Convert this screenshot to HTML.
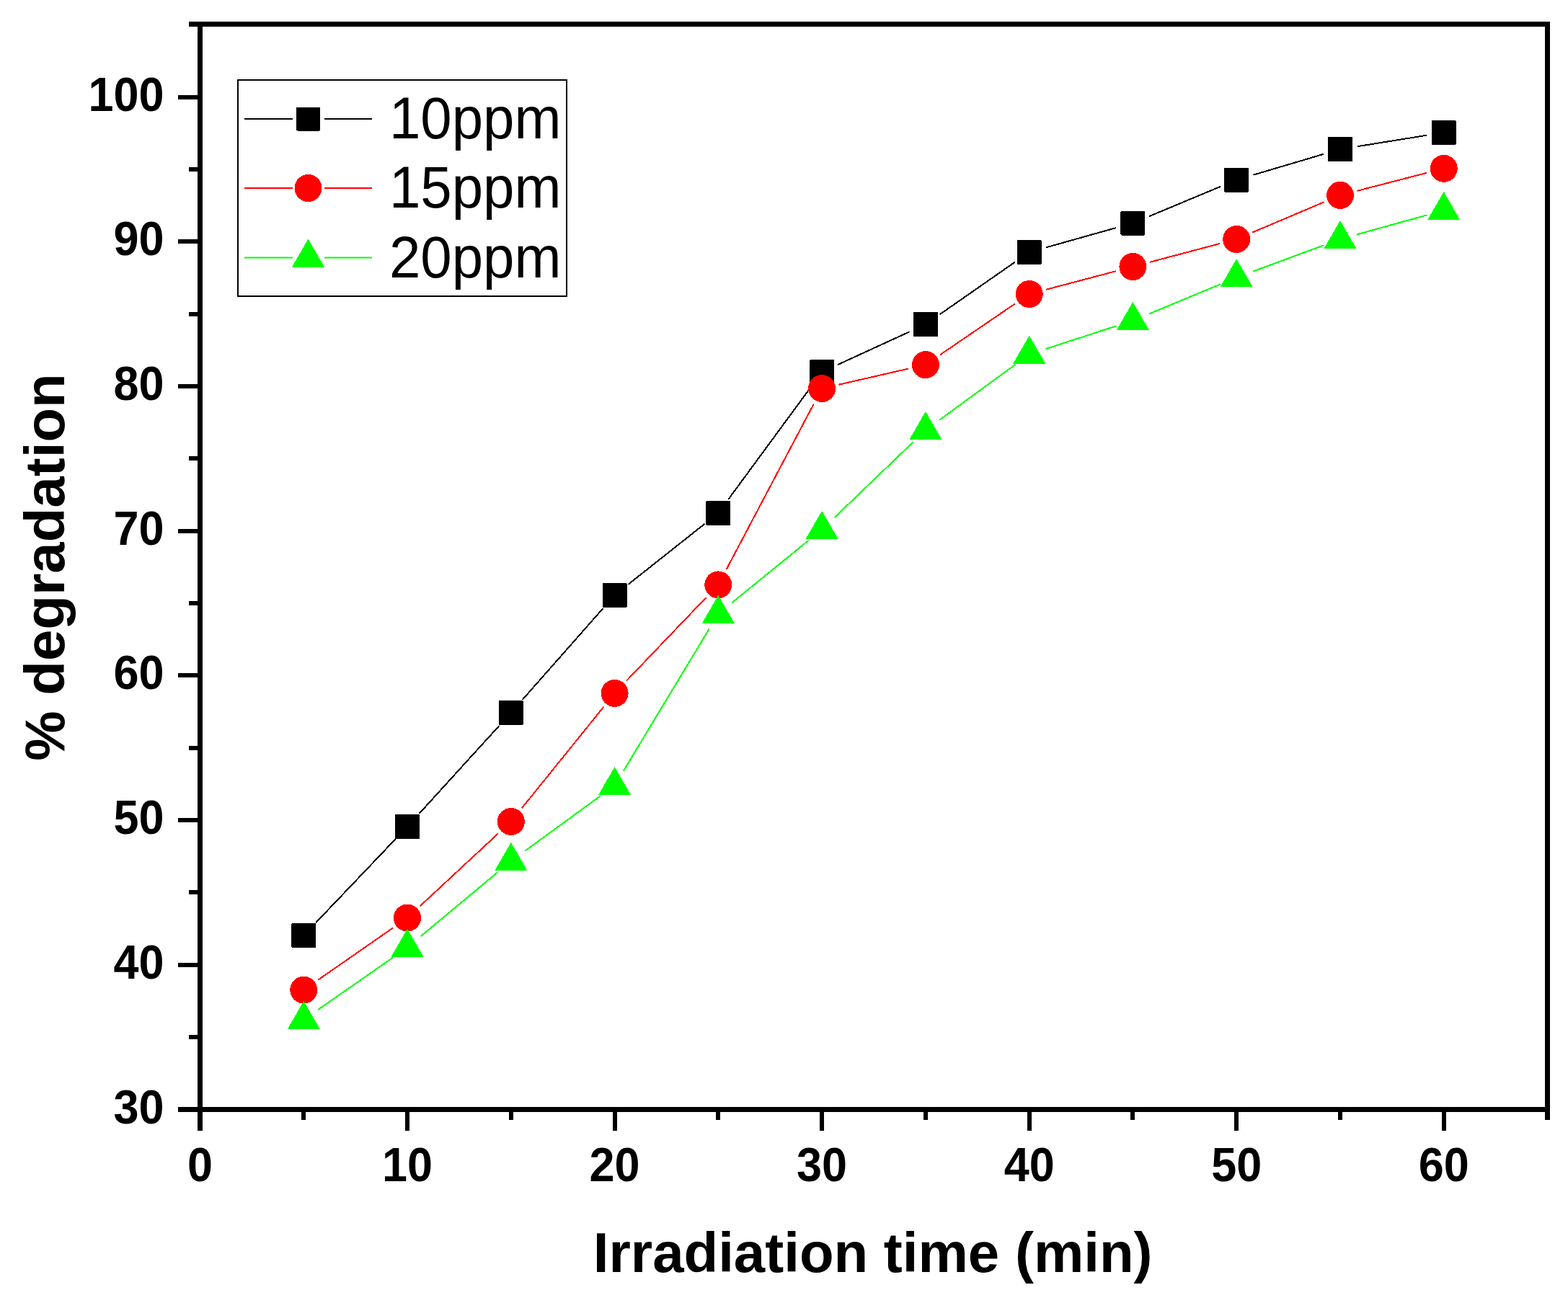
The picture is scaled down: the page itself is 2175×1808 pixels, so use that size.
<!DOCTYPE html><html><head><meta charset="utf-8"><title>% degradation vs Irradiation time</title><style>html,body{margin:0;padding:0;background:#fff}svg{display:block}text{font-family:"Liberation Sans",Arial,sans-serif}</style></head><body>
<svg width="2175" height="1808" viewBox="0 0 2175 1808">
<rect width="2175" height="1808" fill="#fff"/>
<path d="M438.5 1279.9L547.8 1165.1M581.9 1128.5L692.0 1007.5M725.3 970.2L836.1 844.6M872.2 810.3L976.7 727.5M1011.1 691.8L1125.3 536.4M1162.8 505.7L1261.2 460.5M1304.4 435.7L1407.1 364.2M1451.7 343.2L1547.4 316.3M1594.5 300.0L1692.1 259.2M1739.2 242.5L1835.0 214.1M1883.6 203.1L1978.0 187.9" stroke="#000" stroke-width="2" fill="none" stroke-linecap="round" shape-rendering="crispEdges"/>
<rect x="404.3" y="1281.0" width="34" height="34" rx="1.5" fill="#000" shape-rendering="crispEdges"/><rect x="548.0" y="1130.0" width="34" height="34" rx="1.5" fill="#000" shape-rendering="crispEdges"/><rect x="691.8" y="972.0" width="34" height="34" rx="1.5" fill="#000" shape-rendering="crispEdges"/><rect x="835.6" y="808.8" width="34" height="34" rx="1.5" fill="#000" shape-rendering="crispEdges"/><rect x="979.3" y="695.0" width="34" height="34" rx="1.5" fill="#000" shape-rendering="crispEdges"/><rect x="1123.1" y="499.2" width="34" height="34" rx="1.5" fill="#000" shape-rendering="crispEdges"/><rect x="1266.9" y="433.0" width="34" height="34" rx="1.5" fill="#000" shape-rendering="crispEdges"/><rect x="1410.7" y="332.9" width="34" height="34" rx="1.5" fill="#000" shape-rendering="crispEdges"/><rect x="1554.4" y="292.6" width="34" height="34" rx="1.5" fill="#000" shape-rendering="crispEdges"/><rect x="1698.2" y="232.6" width="34" height="34" rx="1.5" fill="#000" shape-rendering="crispEdges"/><rect x="1842.0" y="190.0" width="34" height="34" rx="1.5" fill="#000" shape-rendering="crispEdges"/><rect x="1985.7" y="167.0" width="34" height="34" rx="1.5" fill="#000" shape-rendering="crispEdges"/>
<path d="M441.8 1359.3L544.5 1287.9M583.4 1256.6L690.5 1157.0M724.5 1120.5L836.9 981.4M869.8 943.8L979.1 829.5M1008.0 789.3L1128.4 561.2M1164.5 533.5L1259.5 511.7M1304.5 492.0L1407.0 422.1M1451.8 401.6L1547.3 376.4M1595.6 363.6L1691.0 338.3M1738.2 322.1L1835.9 280.7M1883.2 264.7L1978.5 240.0" stroke="#f00" stroke-width="2" fill="none" stroke-linecap="round" shape-rendering="crispEdges"/>
<circle cx="421.3" cy="1373.6" r="19.0" fill="#f00" shape-rendering="crispEdges"/><circle cx="565.0" cy="1273.6" r="19.0" fill="#f00" shape-rendering="crispEdges"/><circle cx="708.8" cy="1140.0" r="19.0" fill="#f00" shape-rendering="crispEdges"/><circle cx="852.6" cy="961.9" r="19.0" fill="#f00" shape-rendering="crispEdges"/><circle cx="996.3" cy="811.4" r="19.0" fill="#f00" shape-rendering="crispEdges"/><circle cx="1140.1" cy="539.1" r="19.0" fill="#f00" shape-rendering="crispEdges"/><circle cx="1283.9" cy="506.1" r="19.0" fill="#f00" shape-rendering="crispEdges"/><circle cx="1427.7" cy="408.0" r="19.0" fill="#f00" shape-rendering="crispEdges"/><circle cx="1571.4" cy="370.0" r="19.0" fill="#f00" shape-rendering="crispEdges"/><circle cx="1715.2" cy="331.9" r="19.0" fill="#f00" shape-rendering="crispEdges"/><circle cx="1859.0" cy="270.9" r="19.0" fill="#f00" shape-rendering="crispEdges"/><circle cx="2002.7" cy="233.8" r="19.0" fill="#f00" shape-rendering="crispEdges"/>
<path d="M441.8 1400.6L544.5 1329.0M584.2 1298.7L689.6 1210.9M729.0 1180.2L832.4 1104.7M865.5 1068.6L983.4 873.2M1015.7 836.0L1120.7 750.6M1158.2 717.5L1265.8 614.2M1304.1 582.1L1407.5 506.4M1451.4 483.9L1547.6 452.6M1594.5 435.3L1692.1 394.7M1738.6 376.4L1835.5 340.6M1883.0 325.2L1978.6 298.6" stroke="#0f0" stroke-width="2" fill="none" stroke-linecap="round" shape-rendering="crispEdges"/>
<path d="M421.3 1388.9L443.8 1427.9L398.8 1427.9Z" fill="#0f0" shape-rendering="crispEdges"/><path d="M565.0 1288.7L587.5 1327.7L542.5 1327.7Z" fill="#0f0" shape-rendering="crispEdges"/><path d="M708.8 1168.9L731.3 1207.9L686.3 1207.9Z" fill="#0f0" shape-rendering="crispEdges"/><path d="M852.6 1064.0L875.1 1103.0L830.1 1103.0Z" fill="#0f0" shape-rendering="crispEdges"/><path d="M996.3 825.8L1018.8 864.8L973.8 864.8Z" fill="#0f0" shape-rendering="crispEdges"/><path d="M1140.1 708.8L1162.6 747.8L1117.6 747.8Z" fill="#0f0" shape-rendering="crispEdges"/><path d="M1283.9 570.9L1306.4 609.9L1261.4 609.9Z" fill="#0f0" shape-rendering="crispEdges"/><path d="M1427.7 465.6L1450.2 504.6L1405.2 504.6Z" fill="#0f0" shape-rendering="crispEdges"/><path d="M1571.4 418.9L1593.9 457.9L1548.9 457.9Z" fill="#0f0" shape-rendering="crispEdges"/><path d="M1715.2 359.1L1737.7 398.1L1692.7 398.1Z" fill="#0f0" shape-rendering="crispEdges"/><path d="M1859.0 305.9L1881.5 344.9L1836.5 344.9Z" fill="#0f0" shape-rendering="crispEdges"/><path d="M2002.7 265.9L2025.2 304.9L1980.2 304.9Z" fill="#0f0" shape-rendering="crispEdges"/>
<path fill="#000" d="M274 30H2150V37H274ZM274 1536H2150V1543H274ZM274 30H281V1569H274ZM2143 30H2150V1554H2143ZM418 1543H424V1554H418ZM562 1543H568V1569H562ZM706 1543H712V1554H706ZM850 1543H856V1569H850ZM993 1543H999V1554H993ZM1137 1543H1143V1569H1137ZM1281 1543H1287V1554H1281ZM1425 1543H1431V1569H1425ZM1568 1543H1574V1554H1568ZM1712 1543H1718V1569H1712ZM1856 1543H1862V1554H1856ZM2000 1543H2006V1569H2000ZM247 1536H274V1543H247ZM262 1436H274V1442H262ZM247 1336H274V1342H247ZM262 1235H274V1241H262ZM247 1135H274V1141H247ZM262 1035H274V1041H262ZM247 934H274V940H247ZM262 834H274V840H262ZM247 734H274V740H247ZM262 633H274V639H262ZM247 533H274V539H247ZM262 433H274V439H262ZM247 332H274V338H247ZM262 232H274V238H262ZM247 132H274V138H247ZM262 30H274V37H262Z"/>
<g font-weight="bold" font-size="63" fill="#000">
<text x="277.5" y="0" text-anchor="middle" transform="translate(0,1639.2) scale(1,1.055)">0</text>
<text x="565.0" y="0" text-anchor="middle" transform="translate(0,1639.2) scale(1,1.055)">10</text>
<text x="852.6" y="0" text-anchor="middle" transform="translate(0,1639.2) scale(1,1.055)">20</text>
<text x="1140.1" y="0" text-anchor="middle" transform="translate(0,1639.2) scale(1,1.055)">30</text>
<text x="1427.7" y="0" text-anchor="middle" transform="translate(0,1639.2) scale(1,1.055)">40</text>
<text x="1715.2" y="0" text-anchor="middle" transform="translate(0,1639.2) scale(1,1.055)">50</text>
<text x="2002.7" y="0" text-anchor="middle" transform="translate(0,1639.2) scale(1,1.055)">60</text>
<text x="227.6" y="0" text-anchor="end" transform="translate(0,1558.5) scale(1,1.055)">30</text>
<text x="227.6" y="0" text-anchor="end" transform="translate(0,1357.8) scale(1,1.055)">40</text>
<text x="227.6" y="0" text-anchor="end" transform="translate(0,1157.1) scale(1,1.055)">50</text>
<text x="227.6" y="0" text-anchor="end" transform="translate(0,956.4) scale(1,1.055)">60</text>
<text x="227.6" y="0" text-anchor="end" transform="translate(0,755.7) scale(1,1.055)">70</text>
<text x="227.6" y="0" text-anchor="end" transform="translate(0,555.0) scale(1,1.055)">80</text>
<text x="227.6" y="0" text-anchor="end" transform="translate(0,354.3) scale(1,1.055)">90</text>
<text x="227.6" y="0" text-anchor="end" transform="translate(0,153.6) scale(1,1.055)">100</text>
</g>
<text x="822.8" y="1764.9" font-weight="bold" font-size="78">Irradiation time (min)</text>
<text transform="translate(89,1055.7) rotate(-90)" font-weight="bold" font-size="78">% degradation</text>
<rect x="330" y="111" width="456" height="300" fill="#fff" stroke="#000" stroke-width="2"/>
<path d="M339 165H406M450 165H516" stroke="#000" stroke-width="2.2"/>
<rect x="411.0" y="148.5" width="33" height="33" rx="1.5" fill="#000" shape-rendering="crispEdges"/>
<path d="M339 261H406M450 261H516" stroke="#f00" stroke-width="2.2"/>
<circle cx="427.5" cy="261.0" r="19.0" fill="#f00" shape-rendering="crispEdges"/>
<path d="M339 357.5H406M450 357.5H516" stroke="#0f0" stroke-width="2.2"/>
<path d="M427.5 331.5L450.0 370.5L405.0 370.5Z" fill="#0f0" shape-rendering="crispEdges"/>
<text x="540" y="0" font-size="78" transform="translate(0,192.0) scale(1,1.04)">10ppm</text>
<text x="540" y="0" font-size="78" transform="translate(0,288.0) scale(1,1.04)">15ppm</text>
<text x="540" y="0" font-size="78" transform="translate(0,384.5) scale(1,1.04)">20ppm</text>
</svg></body></html>
